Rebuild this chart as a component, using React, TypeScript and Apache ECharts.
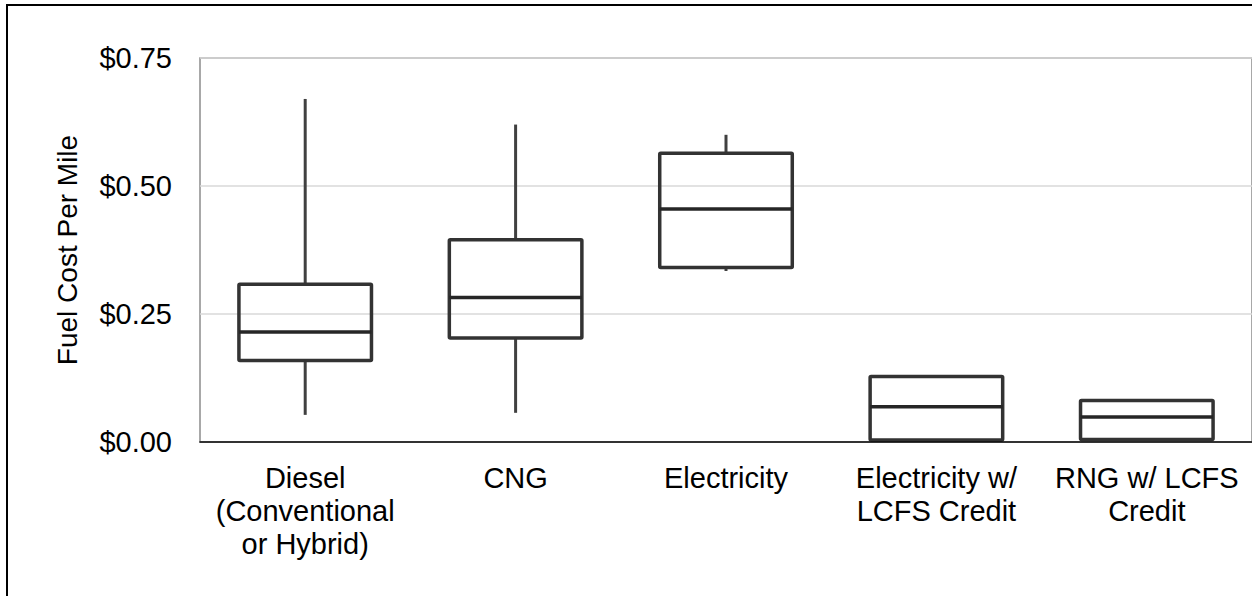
import React, { useEffect, useRef } from "react";
import * as echarts from "echarts";

const categories = [
  "Diesel\n(Conventional\nor Hybrid)",
  "CNG",
  "Electricity",
  "Electricity w/\nLCFS Credit",
  "RNG w/ LCFS\nCredit",
];
const whiskerLow = [0.053, 0.057, 0.334, 0.004, 0.005];
const quartile1 = [0.159, 0.203, 0.341, 0.004, 0.005];
const medians = [0.215, 0.282, 0.455, 0.069, 0.049];
const quartile3 = [0.308, 0.395, 0.564, 0.128, 0.081];
const whiskerHigh = [0.67, 0.62, 0.6, 0.128, 0.081];
const yTicks = [0, 0.25, 0.5, 0.75];

const FONT = "'Liberation Sans', Arial, sans-serif";

export default function App() {
  const ref = useRef<HTMLDivElement>(null);
  useEffect(() => {
    document.body.style.margin = "0";
    if (!ref.current) return;
    const chart = echarts.init(ref.current, null, { renderer: "svg" });
    const data = categories.map((_, i) => [
      i,
      whiskerLow[i],
      quartile1[i],
      medians[i],
      quartile3[i],
      whiskerHigh[i],
    ]);
    chart.setOption({
      animation: false,
      backgroundColor: "#fff",
      textStyle: { fontFamily: FONT },
      graphic: [
        {
          type: "rect",
          shape: { x: 7, y: 5, width: 1400, height: 800 },
          style: { fill: "none", stroke: "#000", lineWidth: 2 },
          silent: true,
          z: 100,
        },
      ],
      grid: {
        left: 200,
        top: 58,
        width: 1055,
        height: 384,
        show: true,
        borderColor: "#8c8c8c",
        borderWidth: 1.5,
        backgroundColor: "transparent",
      },
      xAxis: {
        type: "category",
        data: categories,
        boundaryGap: true,
        axisLine: { show: true, lineStyle: { color: "#000", width: 1.5 } },
        axisTick: { show: false },
        axisLabel: {
          color: "#000",
          fontSize: 29,
          fontFamily: FONT,
          lineHeight: 33,
          margin: 19,
          interval: 0,
        },
        splitLine: { show: false },
        z: 10,
      },
      yAxis: {
        type: "value",
        min: yTicks[0],
        max: yTicks[yTicks.length - 1],
        interval: 0.25,
        axisLine: { show: false },
        axisTick: { show: false },
        axisLabel: {
          color: "#000",
          fontSize: 29,
          fontFamily: FONT,
          margin: 28,
          formatter: (v: number) => "$" + v.toFixed(2),
        },
        splitLine: { show: true, lineStyle: { color: "#d9d9d9", width: 1.5 } },
        name: "Fuel Cost Per Mile",
        nameLocation: "middle",
        nameRotate: 90,
        nameGap: 119,
        nameTextStyle: { color: "#000", fontSize: 28, fontFamily: FONT },
      },
      series: [
        {
          type: "custom",
          data,
          encode: { x: 0, y: [1, 2, 3, 4, 5] },
          renderItem: (params: any, api: any) => {
            const x = api.value(0);
            const lo = api.coord([x, api.value(1)]);
            const q1 = api.coord([x, api.value(2)]);
            const med = api.coord([x, api.value(3)]);
            const q3 = api.coord([x, api.value(4)]);
            const hi = api.coord([x, api.value(5)]);
            const bw = api.size([1, 0])[0] * 0.63;
            const cx = lo[0];
            const left = cx - bw / 2;
            const right = cx + bw / 2;
            const children: any[] = [];
            if (hi[1] < q3[1] - 0.5) {
              children.push({
                type: "line",
                shape: { x1: cx, y1: hi[1], x2: cx, y2: q3[1] },
                style: { stroke: "#404040", lineWidth: 3 },
              });
            }
            if (lo[1] > q1[1] + 0.5) {
              children.push({
                type: "line",
                shape: { x1: cx, y1: q1[1], x2: cx, y2: lo[1] },
                style: { stroke: "#404040", lineWidth: 3 },
              });
            }
            children.push({
              type: "rect",
              shape: { x: left, y: q3[1], width: bw, height: q1[1] - q3[1], r: 1 },
              style: { fill: "none", stroke: "#333333", lineWidth: 3.5 },
            });
            children.push({
              type: "line",
              shape: { x1: left, y1: med[1], x2: right, y2: med[1] },
              style: { stroke: "#262626", lineWidth: 3.5 },
            });
            return { type: "group", children };
          },
          z: 5,
        },
      ],
    });
    return () => chart.dispose();
  }, []);
  return <div ref={ref} style={{ width: 1252, height: 596 }} />;
}
